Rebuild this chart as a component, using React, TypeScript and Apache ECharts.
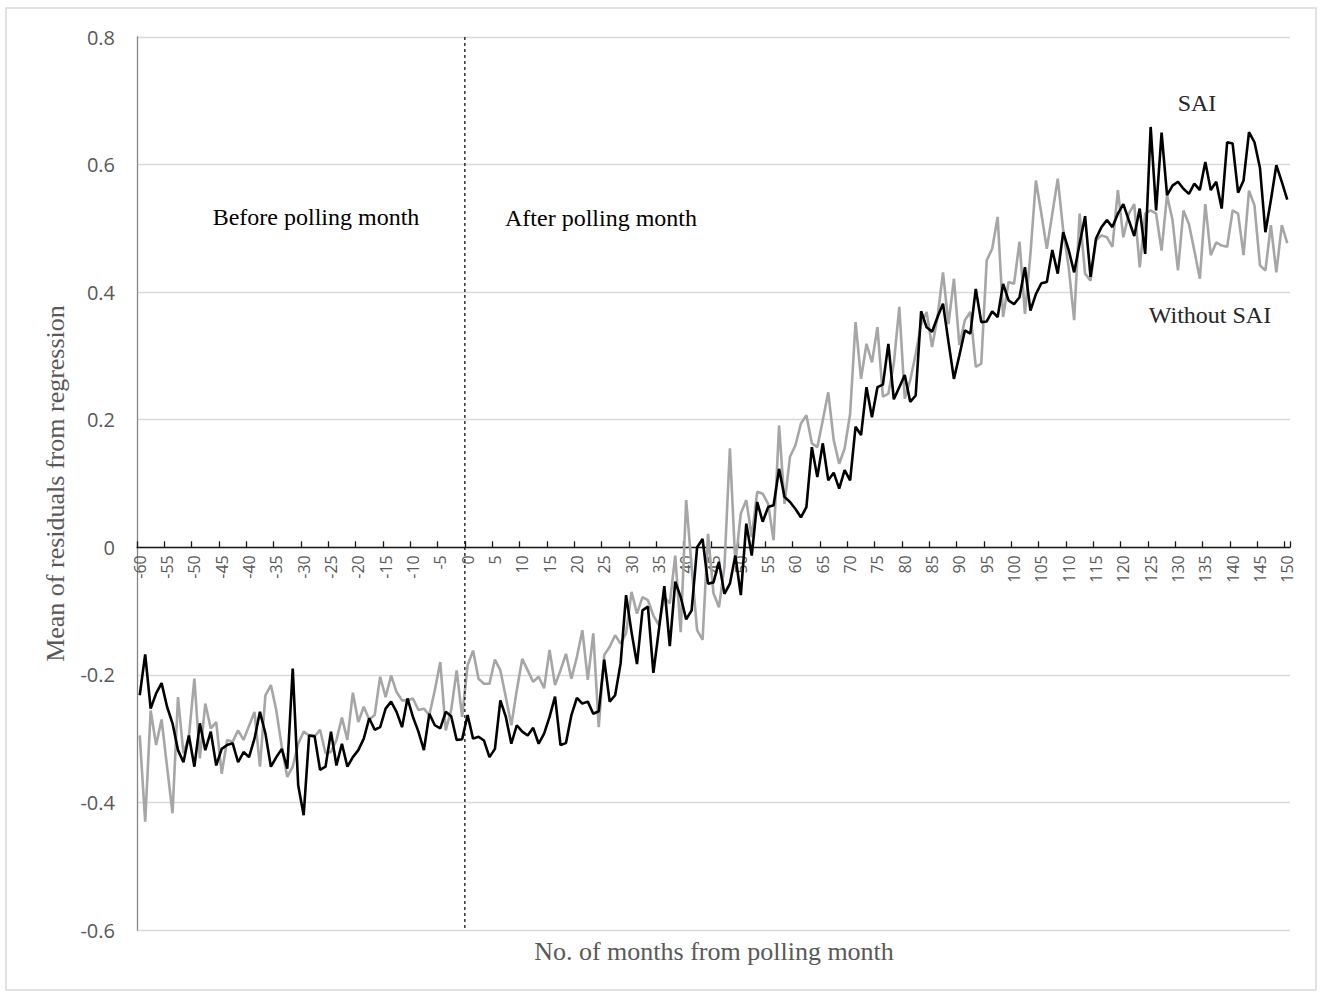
import React, { useEffect, useRef } from "react";
import * as echarts from "echarts";

// Months relative to the polling month
const months: string[] = Array.from({ length: 211 }, (_, i) => String(i - 60));

// Mean of residuals, series with SAI
const saiValues: number[] = [
  -0.232, -0.168, -0.253, -0.229, -0.213, -0.250, -0.276, -0.318, -0.337, -0.295,
  -0.344, -0.276, -0.318, -0.289, -0.342, -0.316, -0.310, -0.307, -0.337, -0.321,
  -0.329, -0.300, -0.258, -0.292, -0.344, -0.329, -0.316, -0.347, -0.190, -0.373,
  -0.420, -0.295, -0.296, -0.349, -0.344, -0.289, -0.342, -0.308, -0.344, -0.329,
  -0.318, -0.300, -0.268, -0.286, -0.282, -0.253, -0.242, -0.258, -0.282, -0.237,
  -0.266, -0.289, -0.318, -0.261, -0.279, -0.284, -0.258, -0.265, -0.302, -0.301,
  -0.263, -0.300, -0.297, -0.303, -0.329, -0.316, -0.240, -0.266, -0.308, -0.279,
  -0.289, -0.295, -0.283, -0.308, -0.292, -0.266, -0.234, -0.310, -0.307, -0.263,
  -0.236, -0.245, -0.242, -0.261, -0.257, -0.176, -0.242, -0.232, -0.182, -0.075,
  -0.133, -0.183, -0.099, -0.093, -0.197, -0.130, -0.061, -0.155, -0.054, -0.078,
  -0.113, -0.099, 0.000, 0.013, -0.057, -0.055, -0.023, -0.073, -0.057, -0.013,
  -0.075, 0.037, -0.013, 0.071, 0.040, 0.063, 0.066, 0.123, 0.079, 0.071,
  0.060, 0.047, 0.063, 0.157, 0.110, 0.163, 0.105, 0.117, 0.092, 0.121,
  0.105, 0.189, 0.176, 0.251, 0.204, 0.251, 0.255, 0.319, 0.232, 0.251,
  0.270, 0.228, 0.238, 0.370, 0.345, 0.338, 0.361, 0.382, 0.322, 0.264,
  0.301, 0.340, 0.335, 0.405, 0.353, 0.354, 0.370, 0.361, 0.413, 0.387,
  0.381, 0.392, 0.439, 0.371, 0.397, 0.414, 0.416, 0.466, 0.429, 0.494,
  0.466, 0.431, 0.476, 0.519, 0.424, 0.484, 0.502, 0.513, 0.502, 0.523,
  0.538, 0.513, 0.488, 0.531, 0.460, 0.659, 0.528, 0.650, 0.552, 0.567,
  0.573, 0.562, 0.554, 0.570, 0.560, 0.604, 0.560, 0.573, 0.531, 0.635,
  0.633, 0.556, 0.575, 0.651, 0.635, 0.595, 0.494, 0.544, 0.599, 0.573,
  0.545,
];

// Mean of residuals, series without SAI
const withoutSaiValues: number[] = [
  -0.295, -0.430, -0.256, -0.310, -0.270, -0.344, -0.417, -0.235, -0.323, -0.297,
  -0.206, -0.331, -0.245, -0.284, -0.274, -0.355, -0.302, -0.305, -0.287, -0.302,
  -0.280, -0.258, -0.344, -0.232, -0.216, -0.256, -0.313, -0.360, -0.344, -0.308,
  -0.289, -0.295, -0.297, -0.286, -0.323, -0.321, -0.302, -0.267, -0.302, -0.228,
  -0.274, -0.250, -0.270, -0.263, -0.203, -0.235, -0.201, -0.227, -0.240, -0.240,
  -0.237, -0.255, -0.253, -0.263, -0.224, -0.180, -0.287, -0.255, -0.193, -0.266,
  -0.185, -0.162, -0.206, -0.214, -0.214, -0.176, -0.193, -0.235, -0.279, -0.224,
  -0.175, -0.193, -0.211, -0.203, -0.221, -0.161, -0.216, -0.193, -0.167, -0.206,
  -0.172, -0.130, -0.208, -0.135, -0.282, -0.169, -0.156, -0.138, -0.151, -0.135,
  -0.070, -0.104, -0.078, -0.083, -0.107, -0.122, -0.078, -0.088, -0.013, -0.133,
  0.074, -0.031, -0.130, -0.145, 0.021, -0.072, -0.094, -0.031, 0.155, -0.026,
  0.053, 0.074, 0.016, 0.087, 0.084, 0.068, 0.011, 0.191, 0.068, 0.142,
  0.160, 0.194, 0.207, 0.163, 0.157, 0.199, 0.243, 0.168, 0.131, 0.155,
  0.209, 0.353, 0.264, 0.319, 0.290, 0.345, 0.236, 0.241, 0.288, 0.377,
  0.233, 0.262, 0.303, 0.350, 0.369, 0.314, 0.361, 0.431, 0.350, 0.421,
  0.317, 0.356, 0.369, 0.283, 0.288, 0.450, 0.468, 0.518, 0.361, 0.416,
  0.413, 0.479, 0.366, 0.460, 0.575, 0.523, 0.468, 0.523, 0.578, 0.497,
  0.439, 0.356, 0.523, 0.429, 0.418, 0.481, 0.489, 0.486, 0.471, 0.560,
  0.486, 0.523, 0.538, 0.439, 0.523, 0.528, 0.523, 0.465, 0.552, 0.513,
  0.434, 0.528, 0.507, 0.465, 0.421, 0.538, 0.458, 0.478, 0.473, 0.471,
  0.528, 0.523, 0.458, 0.559, 0.536, 0.442, 0.434, 0.505, 0.431, 0.505,
  0.477,
];

// Y axis range
const yMin = -0.6;
const yMax = 0.8;
const yStep = 0.2;

const SERIF = "'Liberation Serif', 'Times New Roman', serif";
const SANS = "'Open Sans', 'Noto Sans', sans-serif";

export default function App() {
  const ref = useRef<HTMLDivElement>(null);

  useEffect(() => {
    if (!ref.current) return;
    const chart = echarts.init(ref.current, undefined, { renderer: "svg" });

    chart.setOption({
      animation: false,
      backgroundColor: "#ffffff",
      grid: { left: 137, right: 32, top: 37, bottom: 66, outerBoundsMode: "none" },
      xAxis: {
        type: "category",
        data: months,
        boundaryGap: true,
        offset: 0,
        axisLine: { onZero: false, lineStyle: { color: "#1a1a1a", width: 1.3 } },
        axisTick: { show: true, inside: true, length: 6, interval: 4, lineStyle: { color: "#1a1a1a", width: 1.3 } },
        axisLabel: {
          interval: 4,
          rotate: 90,
          margin: 8,
          color: "#595959",
          fontFamily: SANS,
          fontSize: 16,
        },
        splitLine: { show: false },
      },
      yAxis: {
        type: "value",
        min: yMin,
        max: yMax,
        interval: yStep,
        name: "Mean of residuals from regression",
        nameLocation: "middle",
        nameGap: 69,
        nameRotate: 90,
        nameTextStyle: { color: "#595959", fontFamily: SERIF, fontSize: 26 },
        axisLine: { show: true, lineStyle: { color: "#868686", width: 1.3 } },
        axisTick: { show: false },
        axisLabel: {
          margin: 22,
          color: "#595959",
          fontFamily: SANS,
          fontSize: 20,
          formatter: (v: number) => String(Number(v.toFixed(1))),
        },
        splitLine: { show: true, lineStyle: { color: "#d9d9d9", width: 1.3 } },
      },
      series: [
        {
          name: "Without SAI",
          type: "line",
          data: withoutSaiValues,
          symbol: "none",
          lineStyle: { color: "#a6a6a6", width: 2.6 },
          z: 2,
        },
        {
          name: "SAI",
          type: "line",
          data: saiValues,
          symbol: "none",
          lineStyle: { color: "#000000", width: 2.6 },
          z: 3,
        },
      ],
    });

    // Pixel positions taken from the axes' own scales
    const c0 = chart.convertToPixel({ xAxisIndex: 0 }, "0") as number;
    const c1 = chart.convertToPixel({ xAxisIndex: 0 }, "1") as number;
    const xSep = c0 - (c1 - c0) / 2;
    const yTop = chart.convertToPixel({ yAxisIndex: 0 }, yMax) as number;
    const yBot = chart.convertToPixel({ yAxisIndex: 0 }, yMin) as number;
    const yZero = chart.convertToPixel({ yAxisIndex: 0 }, 0) as number;

    const annot = (text: string, x: number, y: number, size: number, color: string) => ({
      type: "text",
      x,
      y,
      style: {
        text,
        fill: color,
        font: `${size}px ${SERIF}`,
        textAlign: "center",
        textVerticalAlign: "middle",
      },
      z: 10,
    });

    chart.setOption({
      // The category axis sits on the zero line, labels included
      xAxis: { offset: -(yBot - yZero) },
      graphic: [
        {
          type: "rect",
          shape: { x: 6, y: 8, width: 1310, height: 982 },
          style: { fill: "none", stroke: "#d9d9d9", lineWidth: 1.5 },
          z: -1,
        },
        {
          type: "line",
          shape: { x1: xSep, y1: yTop, x2: xSep, y2: yBot },
          style: { stroke: "#000000", lineWidth: 1.2, lineDash: [3, 3] },
          z: 5,
        },
        annot("Before polling month", 316, 217, 24, "#000000"),
        annot("After polling month", 601, 218, 24, "#000000"),
        annot("SAI", 1197, 103, 24, "#262626"),
        annot("Without SAI", 1210, 315, 24, "#262626"),
        annot("No. of months from polling month", 714, 951, 26, "#595959"),
      ],
    });

    return () => chart.dispose();
  }, []);

  return (
    <div
      ref={ref}
      style={{ position: "absolute", left: 0, top: 0, width: 1322, height: 996 }}
    />
  );
}
